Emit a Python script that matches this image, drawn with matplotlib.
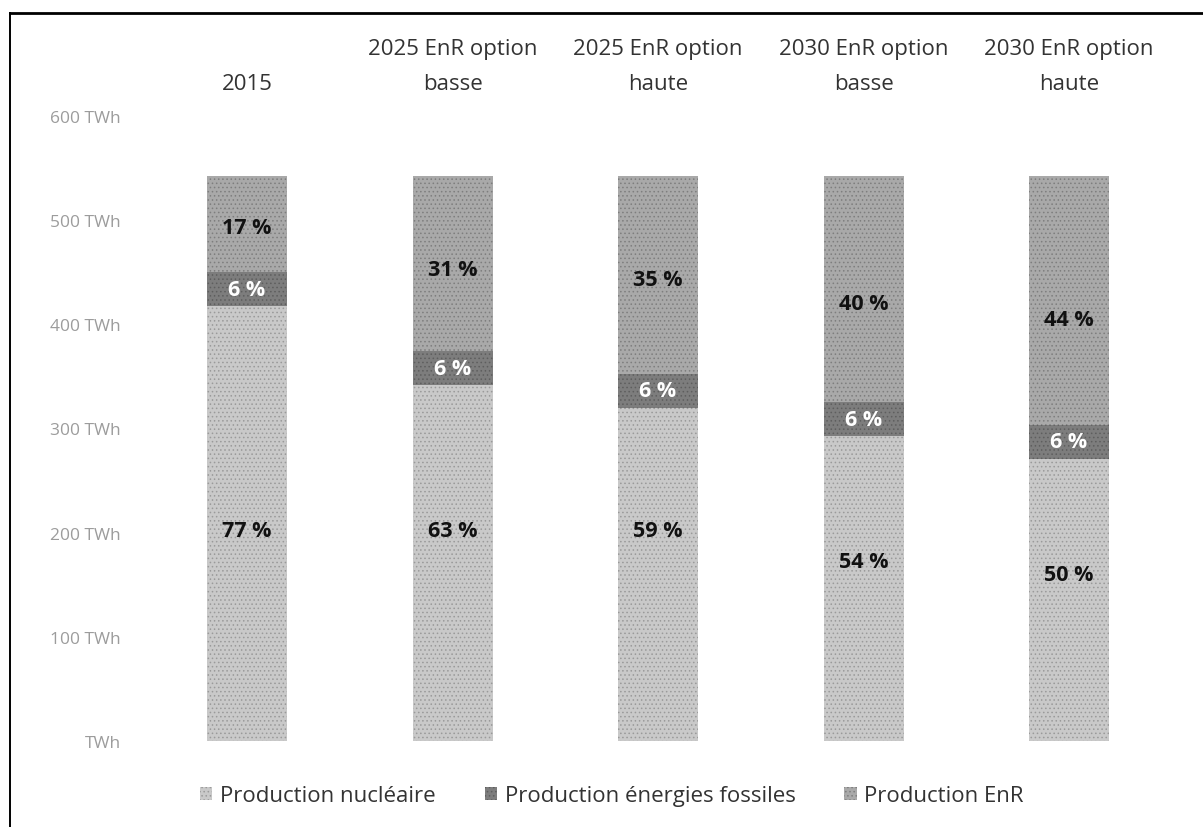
import matplotlib
matplotlib.use("Agg")
import matplotlib.pyplot as plt
from matplotlib.lines import Line2D
from matplotlib.patches import Patch
from matplotlib.transforms import blended_transform_factory

# Scenario data: total electricity production and its split by source (%)
scenarios = [
    ["2015"],
    ["2025 EnR option", "basse"],
    ["2025 EnR option", "haute"],
    ["2030 EnR option", "basse"],
    ["2030 EnR option", "haute"],
]
total_twh = [542, 542, 542, 542, 542]
share_nuclear = [77, 63, 59, 54, 50]
share_fossil = [6, 6, 6, 6, 6]
share_enr = [17, 31, 35, 40, 44]

series_names = ["Production nucléaire", "Production énergies fossiles", "Production EnR"]
y_ticks = [0, 100, 200, 300, 400, 500, 600]
y_tick_labels = ["TWh", "100 TWh", "200 TWh", "300 TWh", "400 TWh", "500 TWh", "600 TWh"]

# Height (TWh) at which the nuclear / EnR percentages are written
nuc_label_y = [202, 202, 202, 172, 160]
enr_label_y = [493, 453, 443, 420, 405]

plt.rcParams["font.family"] = ["Open Sans", "DejaVu Sans"]
plt.rcParams["hatch.linewidth"] = 0.6

W, H = 1203, 828
fig = plt.figure(figsize=(W / 100, H / 100), dpi=100)

step_px = 205.5
x_lo, x_hi = -0.6, 4.6
left_px = 247 + x_lo * step_px
ax_w_px = (x_hi - x_lo) * step_px
ax = fig.add_axes([left_px / W, 86 / H, ax_w_px / W, 625 / H])

styles = [
    dict(color="#c9c9c9", edgecolor="#9a9a9a", hatch="...."),
    dict(color="#7d7d7d", edgecolor="#5e5e5e", hatch="...."),
    dict(color="#a9a9a9", edgecolor="#7e7e7e", hatch="...."),
]

x = list(range(len(scenarios)))
nuc = [t * p / 100 for t, p in zip(total_twh, share_nuclear)]
fos = [t * p / 100 for t, p in zip(total_twh, share_fossil)]
enr = [t * p / 100 for t, p in zip(total_twh, share_enr)]
base_fos = nuc
base_enr = [a + b for a, b in zip(nuc, fos)]

bw = 80 / step_px
ax.bar(x, nuc, width=bw, linewidth=0, **styles[0])
ax.bar(x, fos, bottom=base_fos, width=bw, linewidth=0, **styles[1])
ax.bar(x, enr, bottom=base_enr, width=bw, linewidth=0, **styles[2])

lbl_kw = dict(ha="center", va="center", fontsize=15.5, fontweight="bold")
for i in x:
    ax.text(i, nuc_label_y[i], f"{share_nuclear[i]} %", color="#111111", **lbl_kw)
    ax.text(i, base_fos[i] + fos[i] / 2, f"{share_fossil[i]} %", color="white", **lbl_kw)
    ax.text(i, enr_label_y[i], f"{share_enr[i]} %", color="#111111", **lbl_kw)

ax.set_xlim(x_lo, x_hi)
ax.set_ylim(0, 600)
ax.set_xticks([])
ax.set_yticks(y_ticks)
ax.set_yticklabels(y_tick_labels, color="#9c9c9c", fontsize=12.5)
ax.tick_params(axis="y", length=0, pad=2)
for s in ax.spines.values():
    s.set_visible(False)

# Scenario names above the bars (last line sits on a common row)
tr = blended_transform_factory(ax.transData, fig.transFigure)
row_px = [84, 49]
for i, lines in enumerate(scenarios):
    for k, line in enumerate(reversed(lines)):
        ax.text(i, 1 - row_px[k] / H, line, transform=tr, ha="center", va="center",
                fontsize=16, color="#333333")

handles = [Patch(facecolor=st["color"], edgecolor=st["edgecolor"], hatch=st["hatch"],
                 linewidth=0) for st in styles]
fig.legend(handles, series_names, loc="center", bbox_to_anchor=(612 / W, 1 - 797 / H),
           ncol=3, frameon=False, fontsize=16, handlelength=0.55, handleheight=0.55,
           handletextpad=0.35, columnspacing=2.2, labelcolor="#333333")

# Frame lines on the left and top edges
fig.add_artist(Line2D([10 / W, 10 / W], [0, 1 - 14 / H], color="black", linewidth=1.4))
fig.add_artist(Line2D([10 / W, 1], [1 - 14 / H, 1 - 14 / H], color="black", linewidth=2))

fig.savefig("out.png", dpi=100, facecolor="white")
